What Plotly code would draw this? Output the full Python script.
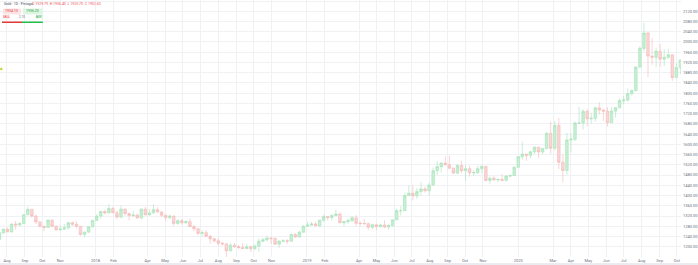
import plotly.graph_objects as go
import pandas as pd

# ---- data (weekly OHLC) ----
week_start = "2017-07-19"
opens = [1228,1254,1269,1258,1289,1285,1291,1325,1346,1320,1297,1280,1275,1304,1280,1266,1269,1274,1294,1288,1280,1248,1257,1278,
         1303,1320,1338,1332,1349,1333,1316,1347,1330,1322,1324,1313,1347,1325,1332,1345,1336,1323,1314,1320,1291,1302,1294,1298,1279,1270,
         1252,1255,1241,1231,1223,1214,1211,1184,1206,1201,1197,1193,1200,1192,1203,1222,1227,1234,1232,1210,1222,1223,1222,1248,1238,1257,
         1280,1285,1289,1282,1304,1318,1314,1322,1328,1294,1298,1302,1313,1292,1291,1290,1276,1286,1279,1285,1277,1283,1305,1341,1341,1400,
         1409,1399,1416,1426,1419,1441,1497,1513,1527,1520,1507,1488,1517,1497,1505,1489,1490,1505,1514,1459,1468,1462,1463,1460,1476,1478,
         1511,1552,1562,1557,1571,1589,1570,1584,1643,1585,1674,1530,1498,1617,1620,1683,1683,1729,1700,1702,1743,1734,1730,1685,1730,1743,
         1771,1773,1798,1810,1902,1975,2035,1945,1940,1964,1933,1940,1950,1861,1900]
highs = [1260,1270,1274,1290,1301,1296,1326,1357,1348,1326,1299,1282,1306,1306,1284,1284,1289,1297,1298,1299,1281,1260,1279,1303,
         1326,1340,1345,1366,1356,1341,1361,1350,1333,1340,1329,1350,1356,1347,1365,1354,1338,1326,1326,1321,1308,1308,1303,1310,1285,1272,
         1264,1265,1246,1235,1235,1219,1214,1214,1215,1206,1214,1212,1204,1209,1233,1234,1243,1237,1237,1225,1230,1230,1251,1253,1262,1284,
         1298,1297,1298,1305,1326,1320,1327,1346,1334,1300,1311,1320,1324,1298,1310,1294,1290,1290,1290,1304,1287,1306,1348,1358,1411,1439,
         1440,1430,1453,1435,1449,1510,1535,1530,1555,1557,1510,1523,1535,1519,1517,1500,1516,1518,1516,1475,1478,1466,1485,1480,1481,1513,
         1553,1611,1563,1574,1591,1590,1584,1649,1689,1692,1703,1560,1645,1644,1690,1747,1738,1738,1723,1747,1765,1739,1745,1745,1746,1779,
         1789,1818,1815,1905,1984,2075,2039,2015,1977,1992,1972,1973,1951,1917,1930]
lows = [1227,1251,1257,1256,1267,1281,1289,1324,1315,1289,1276,1260,1274,1276,1263,1264,1266,1268,1280,1272,1244,1236,1255,1276,
        1302,1310,1326,1330,1332,1307,1311,1321,1303,1316,1309,1307,1322,1321,1330,1334,1316,1302,1307,1282,1286,1287,1290,1276,1261,1245,
        1238,1237,1211,1217,1204,1206,1160,1183,1195,1190,1192,1190,1180,1187,1182,1218,1220,1211,1207,1196,1218,1211,1221,1235,1237,1255,
        1277,1281,1279,1276,1298,1303,1302,1320,1293,1281,1290,1297,1280,1281,1287,1266,1268,1266,1275,1273,1266,1279,1305,1322,1340,1400,
        1381,1387,1400,1412,1400,1440,1480,1491,1518,1503,1484,1483,1487,1459,1474,1476,1483,1486,1456,1445,1457,1452,1458,1455,1472,1477,
        1508,1540,1536,1546,1563,1547,1563,1581,1563,1576,1504,1451,1482,1568,1613,1680,1659,1671,1681,1689,1717,1692,1670,1684,1705,1742,
        1757,1766,1791,1806,1900,1963,1863,1911,1902,1902,1906,1934,1848,1861,1874]
closes = [1255,1269,1258,1289,1285,1291,1325,1346,1320,1297,1280,1275,1304,1280,1266,1269,1274,1294,1288,1280,1248,1257,1278,1303,
          1320,1338,1332,1349,1333,1316,1347,1330,1322,1324,1313,1347,1325,1332,1345,1336,1323,1314,1320,1291,1302,1294,1298,1279,1270,1252,
          1255,1241,1231,1223,1214,1211,1184,1206,1201,1197,1193,1200,1192,1203,1222,1227,1234,1232,1210,1222,1223,1222,1248,1238,1257,1280,
          1285,1289,1282,1304,1318,1314,1322,1328,1294,1298,1302,1313,1292,1291,1290,1276,1286,1279,1285,1277,1283,1305,1341,1341,1400,1409,
          1399,1416,1426,1419,1441,1497,1513,1527,1520,1507,1488,1517,1497,1505,1489,1490,1505,1514,1459,1468,1462,1463,1460,1476,1478,1511,
          1552,1562,1557,1571,1589,1570,1584,1643,1585,1674,1530,1498,1617,1620,1683,1683,1729,1700,1702,1743,1734,1730,1685,1730,1743,1771,
          1773,1798,1810,1902,1975,2035,1945,1940,1964,1933,1940,1950,1861,1900,1930]

price_ticks = list(range(1200, 2161, 40))
month_ticks = ["2017-08-01","2017-09-01","2017-10-01","2017-11-01","2018-01-01","2018-02-01","2018-04-01","2018-05-01",
               "2018-06-01","2018-07-01","2018-08-01","2018-09-01","2018-10-01","2018-11-01","2019-01-01","2019-02-01",
               "2019-04-01","2019-05-01","2019-06-01","2019-07-01","2019-08-01","2019-09-01","2019-10-01","2019-11-01",
               "2020-01-01","2020-03-01","2020-04-01","2020-05-01","2020-06-01","2020-07-01","2020-08-01","2020-09-01","2020-10-01"]
month_labels = ["Aug","Sep","Oct","Nov","2018","Feb","Apr","May","Jun","Jul","Aug","Sep","Oct","Nov","2019","Feb",
                "Apr","May","Jun","Jul","Aug","Sep","Oct","Nov","2020","Mar","Apr","May","Jun","Jul","Aug","Sep","Oct"]

dates = pd.date_range(week_start, periods=len(closes), freq="7D")

W, H = 698, 265
ML, MR, MT, MB = 0, 15, 0, 8
PW, PH = W - ML - MR, H - MT - MB

def px(x):
    return (x - ML) / PW

def py(y):
    return 1 - (y - MT) / PH

fig = go.Figure()
fig.add_trace(go.Candlestick(
    x=dates, open=opens, high=highs, low=lows, close=closes,
    increasing=dict(line=dict(color="#a6e3b8", width=0.6), fillcolor="#c6f0d2"),
    decreasing=dict(line=dict(color="#f5b8b8", width=0.6), fillcolor="#fad6d6"),
    whiskerwidth=0, showlegend=False, hoverinfo="skip",
))

grid = "#f0f1f4"
fig.update_layout(
    width=W, height=H, margin=dict(l=ML, r=MR, t=MT, b=MB),
    paper_bgcolor="white", plot_bgcolor="white", boxgap=0.1,
    xaxis=dict(type="date", range=["2017-07-20", "2020-10-08"], rangeslider=dict(visible=False),
               tickvals=month_ticks, ticktext=month_labels, showgrid=True, gridcolor=grid, gridwidth=1,
               tickfont=dict(family="Roboto", size=4, color="#6b6f7a"), ticks="", zeroline=False,
               showline=False, ticklabelstandoff=0),
    yaxis=dict(side="right", range=[1160, 2164], tickvals=price_ticks,
               ticktext=[f"{v:.2f}" for v in price_ticks], showgrid=True, gridcolor=grid, gridwidth=1,
               tickfont=dict(family="Roboto", size=4, color="#6b6f7a"), ticks="", zeroline=False,
               showline=False, ticklabelstandoff=1),
)

shapes = []
# bottom border line
shapes.append(dict(type="line", xref="paper", yref="paper", x0=0, x1=1.03, y0=py(264), y1=py(264),
                   line=dict(color="#d6d8de", width=1)))
# sell / buy widget
shapes.append(dict(type="rect", xref="paper", yref="paper", x0=px(3), x1=px(21), y0=py(14.5), y1=py(8.5),
                   fillcolor="#fde4e4", line=dict(width=0)))
shapes.append(dict(type="rect", xref="paper", yref="paper", x0=px(23), x1=px(43), y0=py(14.5), y1=py(8.5),
                   fillcolor="#dff5e3", line=dict(width=0)))
shapes.append(dict(type="rect", xref="paper", yref="paper", x0=px(3), x1=px(10), y0=py(18.5), y1=py(15.5),
                   fillcolor="#fde4e4", line=dict(width=0)))
shapes.append(dict(type="rect", xref="paper", yref="paper", x0=px(36), x1=px(43), y0=py(18.5), y1=py(15.5),
                   fillcolor="#dff5e3", line=dict(width=0)))
shapes.append(dict(type="rect", xref="paper", yref="paper", x0=px(2), x1=px(22), y0=py(23), y1=py(21.5),
                   fillcolor="#e53935", line=dict(width=0)))
shapes.append(dict(type="rect", xref="paper", yref="paper", x0=px(22), x1=px(43), y0=py(23), y1=py(21.5),
                   fillcolor="#1fbf4a", line=dict(width=0)))
# small marker at the left edge
shapes.append(dict(type="circle", xref="paper", yref="paper", x0=px(0), x1=px(2.5), y0=py(70.2), y1=py(67.8),
                   fillcolor="#c8d43a", line=dict(width=0)))
fig.update_layout(shapes=shapes)

ann = []
def text(x, y, s, color, size=3.5, anchor="left"):
    ann.append(dict(x=px(x), y=py(y), xref="paper", yref="paper", text=s, showarrow=False,
                    xanchor=anchor, yanchor="middle", font=dict(family="Roboto", size=size, color=color)))

text(2, 4, "Gold · 1D · Pintago", "#4a4e59")
text(30, 4, "O 1929.79  H 1936.40  L 1925.70  C 1932.60", "#ef5350")
text(12, 11.5, "1934.10", "#e53935")
text(33, 11.5, "1936.20", "#1e9e40")
text(6.5, 17, "SELL", "#e53935", size=3)
text(22.5, 17, "2.10", "#6b6f7a", size=3)
text(39.5, 17, "BUY", "#1e9e40", size=3)
for a in ann[2:]:
    a["xanchor"] = "center"
fig.update_layout(annotations=ann)

fig.write_html("out.html")
